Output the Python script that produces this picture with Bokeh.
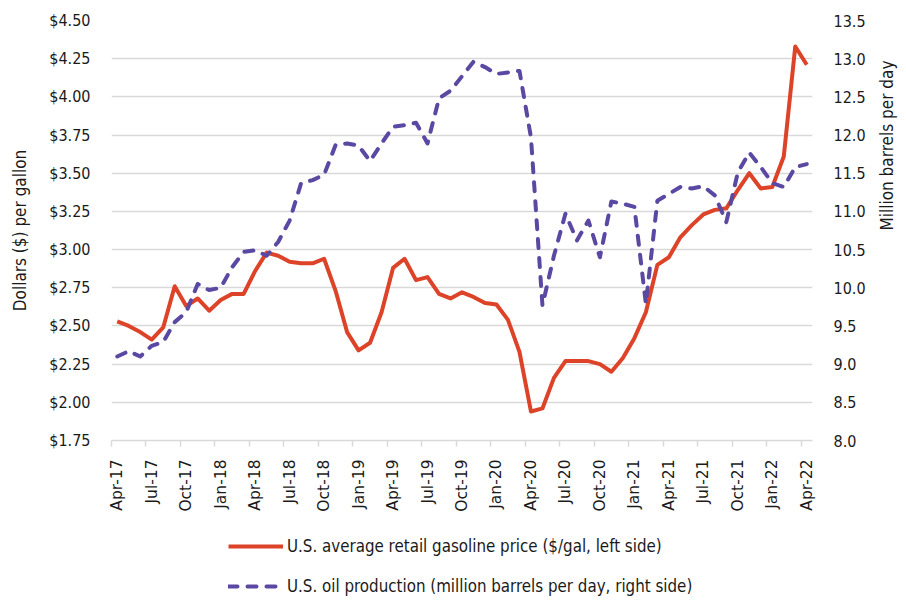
import math
from bokeh.plotting import figure
from bokeh.layouts import column
from bokeh.models import (Range1d, LinearAxis, FixedTicker, NumeralTickFormatter,
                          Legend, LegendItem, ColumnDataSource)
from bokeh.embed import file_html
from bokeh.resources import INLINE

# ---- data (monthly, Apr-2017 .. Apr-2022) ----
gasoline_price = [2.53, 2.50, 2.46, 2.41, 2.49, 2.76, 2.63, 2.68, 2.60, 2.67,
                  2.71, 2.71, 2.86, 2.98, 2.96, 2.92, 2.91, 2.91, 2.94, 2.73,
                  2.46, 2.34, 2.39, 2.59, 2.88, 2.94, 2.80, 2.82, 2.71, 2.68,
                  2.72, 2.69, 2.65, 2.64, 2.54, 2.33, 1.94, 1.96, 2.16, 2.27,
                  2.27, 2.27, 2.25, 2.20, 2.29, 2.42, 2.59, 2.90, 2.95, 3.08,
                  3.16, 3.23, 3.26, 3.27, 3.39, 3.50, 3.40, 3.41, 3.61, 4.33,
                  4.21]
oil_production = [9.10, 9.17, 9.10, 9.24, 9.29, 9.55, 9.68, 10.05, 9.97, 10.00,
                  10.27, 10.47, 10.49, 10.42, 10.60, 10.88, 11.37, 11.41, 11.48, 11.87,
                  11.89, 11.86, 11.66, 11.89, 12.11, 12.13, 12.16, 11.89, 12.48, 12.58,
                  12.77, 12.96, 12.89, 12.80, 12.82, 12.84, 11.97, 9.77, 10.42, 10.97,
                  10.62, 10.88, 10.40, 11.13, 11.10, 11.06, 9.79, 11.14, 11.23, 11.32,
                  11.30, 11.33, 11.21, 10.86, 11.51, 11.77, 11.58, 11.37, 11.32, 11.58,
                  11.62]
month_index = list(range(len(gasoline_price)))
tick_labels = ["Apr-17", "Jul-17", "Oct-17", "Jan-18", "Apr-18", "Jul-18", "Oct-18",
               "Jan-19", "Apr-19", "Jul-19", "Oct-19", "Jan-20", "Apr-20", "Jul-20",
               "Oct-20", "Jan-21", "Apr-21", "Jul-21", "Oct-21", "Jan-22", "Apr-22"]
left_ticks = [1.75, 2.00, 2.25, 2.50, 2.75, 3.00, 3.25, 3.50, 3.75, 4.00, 4.25, 4.50]
right_ticks = [8.0, 8.5, 9.0, 9.5, 10.0, 10.5, 11.0, 11.5, 12.0, 12.5, 13.0, 13.5]
legend_labels = ["U.S. average retail gasoline price ($/gal, left side)",
                 "U.S. oil production (million barrels per day, right side)"]

RED = "#DD4329"
PURPLE = "#5A48A2"
GRID = "#D9D9D9"
COND = "DejaVu Sans Condensed"
TXT = "#1a1a1a"

src = ColumnDataSource(dict(x=month_index, gas=gasoline_price, oil=oil_production))

n = len(month_index)
p = figure(frame_width=701, frame_height=420, output_backend="svg", toolbar_location=None,
           x_range=Range1d(-0.5, n - 0.5), y_range=Range1d(1.75, 4.50),
           min_border_left=111, min_border_right=86, min_border_top=20,
           min_border_bottom=80, x_axis_location=None, y_axis_location=None)
p.outline_line_color = None
p.background_fill_color = "white"
p.border_fill_color = "white"
p.extra_y_ranges = {"oil": Range1d(8.0, 13.5)}

# bottom axis: labels at category centres, minor ticks at category boundaries
label_pos = [3 * k for k in range(len(tick_labels))]
xaxis = LinearAxis(ticker=FixedTicker(ticks=label_pos,
                                      minor_ticks=[3 * k - 0.5 for k in range(len(tick_labels))]))
xaxis.major_label_overrides = {pos: lab for pos, lab in zip(label_pos, tick_labels)}
xaxis.major_label_orientation = math.pi / 2
xaxis.major_tick_out = 0
xaxis.major_tick_in = 0
xaxis.minor_tick_out = 6
xaxis.minor_tick_in = 0
xaxis.minor_tick_line_color = GRID
xaxis.minor_tick_line_width = 1.5
xaxis.axis_line_color = GRID
xaxis.axis_line_width = 1.5
xaxis.major_label_standoff = 13
xaxis.major_label_text_font = "DejaVu Sans"
xaxis.major_label_text_font_size = "15.5px"
xaxis.major_label_text_color = TXT
p.add_layout(xaxis, "below")

# left and right value axes
yleft = LinearAxis(ticker=FixedTicker(ticks=left_ticks),
                   formatter=NumeralTickFormatter(format="$0.00"),
                   axis_label="Dollars ($) per gallon")
yright = LinearAxis(y_range_name="oil", ticker=FixedTicker(ticks=right_ticks),
                    formatter=NumeralTickFormatter(format="0.0"),
                    axis_label="Million barrels per day")
for ax in (yleft, yright):
    ax.axis_line_color = None
    ax.major_tick_line_color = None
    ax.minor_tick_line_color = None
    ax.major_tick_out = 0
    ax.major_tick_in = 0
    ax.major_label_standoff = 21
    ax.major_label_text_font = COND
    ax.major_label_text_font_size = "16px"
    ax.major_label_text_color = TXT
    ax.axis_label_text_font = COND
    ax.axis_label_text_font_size = "17px"
    ax.axis_label_text_font_style = "normal"
    ax.axis_label_text_color = TXT
yleft.axis_label_standoff = 16
yright.axis_label_standoff = 18
yright.axis_label_orientation = math.pi / 2
p.add_layout(yleft, "left")
p.add_layout(yright, "right")

p.ygrid.ticker = FixedTicker(ticks=left_ticks)
p.ygrid.grid_line_color = GRID
p.ygrid.grid_line_width = 1.5
p.xgrid.visible = False

line_styles = [dict(line_color=RED, line_width=4, line_join="round"),
               dict(line_color=PURPLE, line_width=4, line_dash="9 10",
                    line_cap="round", line_join="round")]

p.line("x", "gas", source=src, **line_styles[0])
p.line("x", "oil", source=src, y_range_name="oil", **line_styles[1])

# legend strip below the chart (same borders so the frames line up)
lg = figure(frame_width=701, frame_height=78, output_backend="svg", toolbar_location=None,
            x_range=Range1d(0, 1), y_range=Range1d(100, 101),
            min_border_left=111, min_border_right=86, min_border_top=0,
            min_border_bottom=0, x_axis_location=None, y_axis_location=None)
lg.outline_line_color = None
lg.grid.visible = False
lr_gas = lg.line("x", "gas", source=src, **line_styles[0])
lr_oil = lg.line("x", "oil", source=src, **line_styles[1])

legend = Legend(items=[LegendItem(label=legend_labels[0], renderers=[lr_gas]),
                       LegendItem(label=legend_labels[1], renderers=[lr_oil])],
                location=(117, 2), orientation="vertical")
legend.border_line_color = None
legend.background_fill_alpha = 0
legend.padding = 0
legend.margin = 0
legend.spacing = 20
legend.glyph_width = 55
legend.glyph_height = 20
legend.label_height = 20
legend.label_standoff = 4
legend.label_text_font = COND
legend.label_text_font_size = "16.8px"
legend.label_text_color = TXT
lg.add_layout(legend)

layout = column(p, lg, spacing=0)
open("out.html", "w").write(file_html(layout, INLINE))
